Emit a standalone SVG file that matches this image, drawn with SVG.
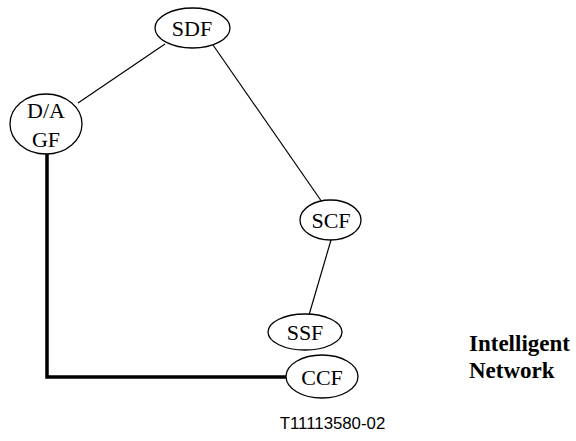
<svg xmlns="http://www.w3.org/2000/svg" width="576" height="441" viewBox="0 0 576 441">
<style>
.n{fill:#fff;stroke:#000;stroke-width:1.3}
.t{font-family:"Liberation Serif",serif;font-size:22px;text-anchor:middle;fill:#000}
.c{stroke:#000;stroke-width:1.2;fill:none}
.k{stroke:#000;stroke-width:3.5;fill:none}
.b{font-family:"Liberation Serif",serif;font-size:23px;font-weight:bold;fill:#000}
</style>
<rect width="576" height="441" fill="#fff"/>
<g id="connectors">
<line class="c" x1="165" y1="44" x2="78" y2="103"/>
<line class="c" x1="213" y1="45" x2="322" y2="202"/>
<line class="c" x1="331" y1="240" x2="309" y2="315"/>
<polyline class="k" points="47,154 47,377 288,377"/>
</g>
<g id="SDF"><ellipse class="n" cx="192.5" cy="28" rx="37.5" ry="20"/><text class="t" x="192" y="36">SDF</text></g>
<g id="DAGF"><ellipse class="n" cx="46" cy="124" rx="36" ry="30"/><text class="t" x="46" y="118">D/A</text><text class="t" x="46" y="147">GF</text></g>
<g id="SCF"><ellipse class="n" cx="330.5" cy="220" rx="30.5" ry="20"/><text class="t" x="331" y="228">SCF</text></g>
<g id="SSF"><ellipse class="n" cx="305" cy="332" rx="37" ry="18"/><text class="t" x="305" y="340">SSF</text></g>
<g id="CCF"><ellipse class="n" cx="322" cy="376.5" rx="36" ry="21.5"/><text class="t" x="322" y="385">CCF</text></g>
<text class="b" x="469" y="351">Intelligent</text>
<text class="b" x="469" y="378">Network</text>
<text x="332.5" y="429" font-family="Liberation Sans,sans-serif" font-size="16.8" text-anchor="middle">T11113580-02</text>
</svg>
